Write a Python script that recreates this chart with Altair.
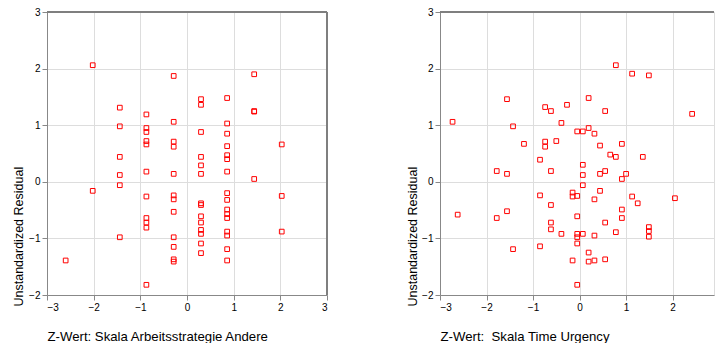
import altair as alt
import pandas as pd

# Left panel: Z-Wert Skala Arbeitsstrategie Andere vs residual
left_x_levels = [-2.60, -2.02, -1.44, -0.87, -0.285, 0.30, 0.86, 1.44, 2.03]
left_y_groups = [
    [-1.39],
    [2.06, -0.16],
    [1.31, 0.98, 0.44, 0.12, -0.06, -0.98],
    [1.19, 0.95, 0.88, 0.72, 0.66, 0.18, -0.26, -0.64, -0.72, -0.81, -1.82],
    [1.87, 1.06, 0.71, 0.62, 0.14, -0.24, -0.31, -0.53, -0.98, -1.15, -1.37, -1.41],
    [1.46, 1.36, 0.88, 0.44, 0.29, 0.14, -0.38, -0.41, -0.61, -0.72, -0.85, -0.92, -1.09, -1.26],
    [1.48, 1.03, 0.85, 0.63, 0.47, 0.40, 0.18, -0.20, -0.32, -0.49, -0.57, -0.64, -0.88, -0.95, -1.19, -1.39],
    [1.90, 1.25, 1.24, 0.05],
    [0.66, -0.25, -0.88],
]

# Right panel: Z-Wert Skala Time Urgency vs residual
right_x = [-2.73, -1.56, -1.43, -1.195, -0.85, -0.74, -0.615, -0.74, -0.74, -0.50,
           -0.39, -0.27, -0.05, 0.07, 0.195, 0.195, 0.32, 0.44, 0.55, 0.66,
           0.78, 0.78, 0.91, 1.13, 1.36, 1.49, 2.42, 0.07, -1.78, -1.56,
           -0.615, 0.07, 0.44, 0.55, 1.00, 0.91, 0.07, 0.44, -0.85, -0.15,
           -0.15, -0.05, 0.32, 1.13, 1.25, 2.05, -0.615, -2.62, -1.78, -1.56,
           -0.615, -0.05, 0.55, 0.91, 0.91, -0.615, -0.39, -0.05, -0.05, 0.07,
           -0.05, 0.32, 0.78, 1.49, 1.49, 1.49, -1.43, -0.85, 0.195, -0.15,
           0.195, 0.32, 0.55, -0.05]
right_y = [1.06, 1.46, 0.98, 0.67, 0.39, 1.32, 1.25, 0.71, 0.62, 0.72,
           1.04, 1.36, 0.89, 0.89, 1.48, 0.95, 0.85, 0.64, 1.25, 0.48,
           2.06, 0.44, 0.67, 1.91, 0.44, 1.88, 1.20, 0.30, 0.19, 0.14,
           0.19, 0.12, 0.14, 0.19, 0.14, 0.05, -0.06, -0.16, -0.24, -0.19,
           -0.26, -0.25, -0.31, -0.26, -0.38, -0.29, -0.41, -0.58, -0.64, -0.52,
           -0.72, -0.61, -0.72, -0.49, -0.64, -0.84, -0.92, -0.92, -0.98, -0.92,
           -1.09, -0.95, -0.89, -0.80, -0.87, -0.97, -1.19, -1.14, -1.25, -1.39,
           -1.41, -1.39, -1.37, -1.82]

x_ticks = [-3, -2, -1, 0, 1, 2, 3]
x_ticks_right = [-3, -2, -1, 0, 1, 2]
y_ticks = [-2, -1, 0, 1, 2, 3]

left_rows = []
for xv, ys in zip(left_x_levels, left_y_groups):
    for yv in ys:
        left_rows.append({"x": xv, "y": yv})
left_df = pd.DataFrame(left_rows)
right_df = pd.DataFrame({"x": right_x, "y": right_y})

FONT = "Liberation Sans"
RED = "#ff0000"
GRAY = "#7f7f7f"
WL, WR, H = 280, 274, 283


def panel(df, width, xdomain, xvals, xtitle, ytitle_x):
    pts = alt.Chart(df).mark_point(
        shape="square", filled=False, color=RED, size=22, strokeWidth=1, opacity=1
    ).encode(
        x=alt.X("x:Q", scale=alt.Scale(domain=xdomain, nice=False, zero=False),
                axis=alt.Axis(values=xvals, title=xtitle, titleAnchor="start",
                              titleAlign="left", titleX=0, titleY=45,
                              titleFont=FONT, titleFontSize=13.2, titleFontWeight=400,
                              titleBaseline="alphabetic", format="d")),
        y=alt.Y("y:Q", scale=alt.Scale(domain=[-2, 3], nice=False, zero=False),
                axis=alt.Axis(values=y_ticks, title="Unstandardized Residual",
                              titleAnchor="start", titleAlign="left", titleAngle=-90,
                              titleX=ytitle_x, titleY=H + 11,
                              titleFont=FONT, titleFontSize=12.5, titleFontWeight=400,
                              titleBaseline="alphabetic", format="d")),
    )
    one = pd.DataFrame({"k": [0]})
    top = alt.Chart(one).mark_rule(color=GRAY, strokeWidth=2).encode(
        x=alt.value(0), x2=alt.value(width), y=alt.value(0)
    )
    layers = [pts, top]
    if xdomain[1] >= 3:
        right = alt.Chart(one).mark_rule(color=GRAY, strokeWidth=2).encode(
            x=alt.value(width), y=alt.value(0), y2=alt.value(H)
        )
        layers.append(right)
    return alt.layer(*layers).properties(width=width, height=H)


left = panel(left_df, WL, [-3, 3], x_ticks, "Z-Wert: Skala Arbeitsstrategie Andere", -25)
right = panel(right_df, WR, [-3, 2.89], x_ticks_right, "Z-Wert:\u00a0 Skala Time Urgency", -24)

chart = alt.hconcat(left, right, spacing=76).properties(
    padding={"left": 11, "top": 6, "right": 0, "bottom": 0}
).configure_view(stroke=None).configure_axis(
    grid=False,
    domainColor="#000000",
    domainWidth=1.5,
    tickColor="#000000",
    tickSize=2,
    tickWidth=2,
    labelFont=FONT,
    labelFontSize=10.5,
    labelColor="#000000",
    labelPadding=4,
    titleFont=FONT,
    titleFontSize=12.5,
    titleFontWeight=400,
    titleColor="#000000",
).configure(background="white")

chart.save("out.html", embed_options={"renderer": "svg", "actions": False})
